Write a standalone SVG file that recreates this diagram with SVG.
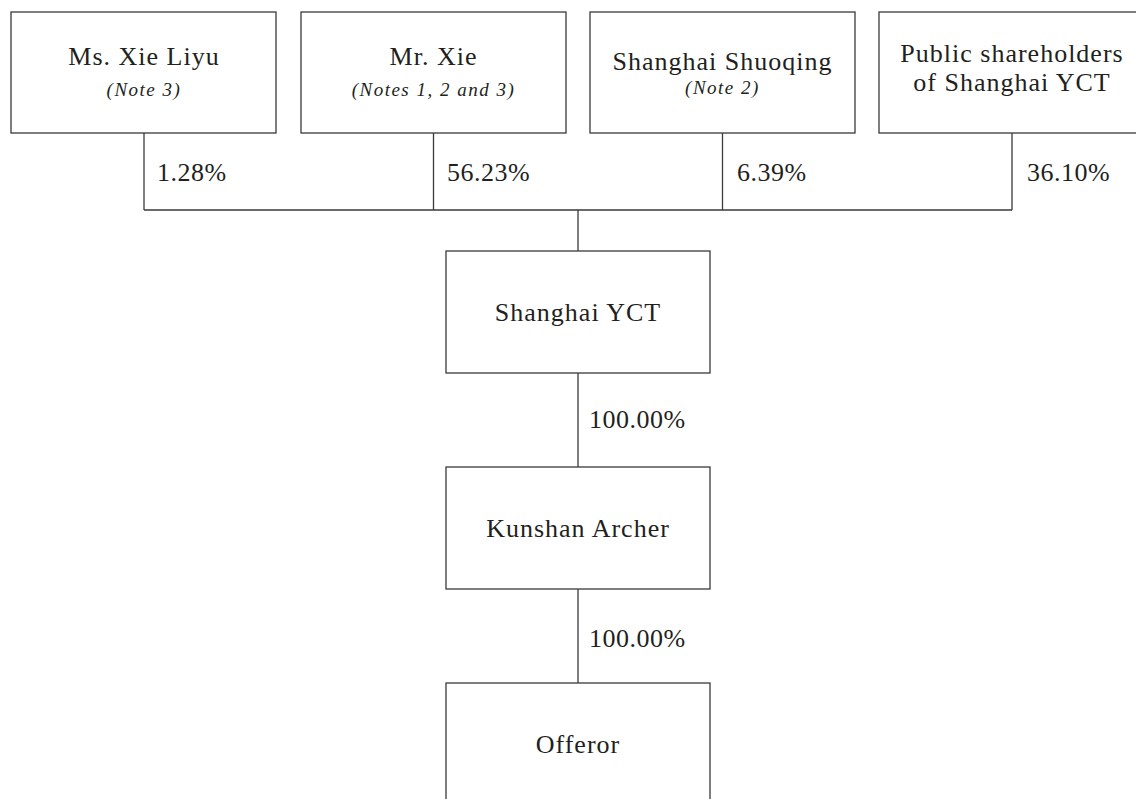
<svg xmlns="http://www.w3.org/2000/svg" width="1136" height="799" viewBox="0 0 1136 799">
<style>
.box{fill:#fff;stroke:#3a3a3a;stroke-width:1.3}
.ln{fill:none;stroke:#3a3a3a;stroke-width:1.3}
.t{font-family:"Liberation Serif","Times New Roman",serif;font-size:26px;letter-spacing:1px;fill:#231f20;text-anchor:middle}
.n{font-family:"Liberation Serif","Times New Roman",serif;font-size:19px;font-style:italic;letter-spacing:1.5px;fill:#231f20;text-anchor:middle}
.p{font-family:"Liberation Serif","Times New Roman",serif;font-size:26px;letter-spacing:0.5px;fill:#231f20}
</style>
<rect width="1136" height="799" fill="#fff"/>
<g id="connectors">
<path class="ln" d="M144,133V210M433.5,133V210M722.5,133V210M1012,133V210M144,210H1012M578,210V251M578,373V467M578,589V683"/>
<text class="p" x="157" y="181">1.28%</text>
<text class="p" x="447" y="181">56.23%</text>
<text class="p" x="737" y="181">6.39%</text>
<text class="p" x="1027" y="181">36.10%</text>
<text class="p" x="589" y="428">100.00%</text>
<text class="p" x="589" y="647">100.00%</text>
</g>
<g id="ms-xie-liyu">
<rect class="box" x="11" y="12" width="265" height="121"/>
<text class="t" x="144" y="65">Ms. Xie Liyu</text>
<text class="n" x="144" y="96">(Note 3)</text>
</g>
<g id="mr-xie">
<rect class="box" x="301" y="12" width="265" height="121"/>
<text class="t" x="433.5" y="65">Mr. Xie</text>
<text class="n" x="433.5" y="96">(Notes 1, 2 and 3)</text>
</g>
<g id="shanghai-shuoqing">
<rect class="box" x="590" y="12" width="265" height="121"/>
<text class="t" x="722.5" y="70">Shanghai Shuoqing</text>
<text class="n" x="722.5" y="94">(Note 2)</text>
</g>
<g id="public-shareholders">
<rect class="box" x="879" y="12" width="266" height="121"/>
<text class="t" x="1012" y="61.5">Public shareholders</text>
<text class="t" x="1012" y="91">of Shanghai YCT</text>
</g>
<g id="shanghai-yct">
<rect class="box" x="446" y="251" width="264" height="122"/>
<text class="t" x="578" y="321">Shanghai YCT</text>
</g>
<g id="kunshan-archer">
<rect class="box" x="446" y="467" width="264" height="122"/>
<text class="t" x="578" y="537">Kunshan Archer</text>
</g>
<g id="offeror">
<rect class="box" x="446" y="683" width="264" height="130"/>
<text class="t" x="578" y="753">Offeror</text>
</g>
</svg>
